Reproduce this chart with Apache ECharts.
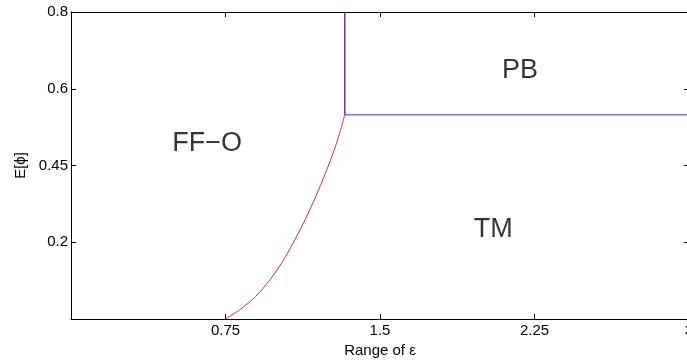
<!DOCTYPE html>
<html>
<head>
<meta charset="utf-8">
<script src="https://cdn.jsdelivr.net/npm/echarts@6/dist/echarts.min.js"></script>
<style>
  html, body { margin: 0; padding: 0; background: #fff; }
  #chart { width: 687px; height: 360px; }
</style>
</head>
<body>
<div id="chart"></div>
<script>
// x ticks (range of epsilon)
var xTicks = [0, 0.75, 1.5, 2.25, 3];
// y axis is drawn by position index; labels are the E[phi] values shown
var yTickLabels = ['', '0.2', '0.45', '0.6', '0.8'];

// FF-O / TM boundary (red curve)
var curveX = [0.75, 0.823, 0.896, 0.968, 1.041, 1.114, 1.163, 1.211, 1.260, 1.294, 1.329];
var curveY = [0, 0.127, 0.293, 0.518, 0.811, 1.173, 1.446, 1.739, 2.072, 2.332, 2.66];
// FF-O / PB boundary (vertical)
var vertX = [1.329, 1.329];
var vertY = [2.66, 4];
// PB / TM boundary (blue)
var blueX = [1.329, 3];
var blueY = [2.66, 2.66];

// region names
var regionNames = ['FF\u2212O', 'PB', 'TM'];
var regionX = [0.661, 2.18, 2.05];
var regionY = [2.28, 3.24, 1.166];

function pairs(xs, ys) {
    return xs.map(function (x, i) { return [x, ys[i]]; });
}

var font = 'Liberation Sans, Arial, Helvetica, sans-serif';
var myChart = echarts.init(document.getElementById('chart'));

var axisCommon = {
    axisLine: { show: true, onZero: false, lineStyle: { color: '#000', width: 1 } },
    axisTick: { show: true, inside: true, length: 5, lineStyle: { color: '#000' } },
    splitLine: { show: false }
};

myChart.setOption({
    backgroundColor: '#fff',
    animation: false,
    grid: { left: 71, right: -2, top: 12, bottom: 41, containLabel: false, outerBoundsMode: 'none' },
    xAxis: [
        Object.assign({
            type: 'value', min: 0, max: 3, interval: 0.75,
            name: 'Range of \u03b5', nameLocation: 'middle', nameGap: 18,
            nameTextStyle: { color: '#000', fontSize: 15, fontFamily: font },
            axisLabel: {
                color: '#000', fontSize: 15, fontFamily: font, margin: 4,
                formatter: function (v) { return v === 0 ? '' : String(v); }
            }
        }, axisCommon),
        Object.assign({
            type: 'value', min: 0, max: 3, interval: 0.75, position: 'top',
            axisLabel: { show: false }
        }, axisCommon)
    ],
    yAxis: [
        Object.assign({
            type: 'value', min: 0, max: 4, interval: 1,
            name: 'E[\u03d5]', nameLocation: 'middle', nameGap: 37,
            nameTextStyle: { color: '#000', fontSize: 15, fontFamily: font },
            axisLabel: {
                color: '#000', fontSize: 15, fontFamily: font, margin: 3,
                formatter: function (v) { return yTickLabels[Math.round(v)]; }
            }
        }, axisCommon),
        Object.assign({
            type: 'value', min: 0, max: 4, interval: 1, position: 'right',
            axisLabel: { show: false }
        }, axisCommon)
    ],
    series: [
        {
            type: 'line', data: pairs(curveX, curveY), smooth: 0.3, symbol: 'none',
            lineStyle: { color: '#b03a3a', width: 1 }
        },
        {
            type: 'line', data: pairs(blueX, blueY), symbol: 'none',
            lineStyle: { color: '#3434c0', width: 1 }
        },
        {
            type: 'line', data: pairs(vertX, vertY), symbol: 'none',
            lineStyle: { color: '#8a2f6a', width: 1.5 }
        },
        {
            type: 'scatter', symbolSize: 0, silent: true,
            data: regionNames.map(function (n, i) { return { name: n, value: [regionX[i], regionY[i]] }; }),
            label: {
                show: true, position: 'inside', formatter: '{b}',
                color: '#000', fontSize: 27, fontFamily: font,
                textBorderWidth: 0, textBorderColor: 'transparent'
            }
        }
    ]
});
</script>
</body>
</html>
